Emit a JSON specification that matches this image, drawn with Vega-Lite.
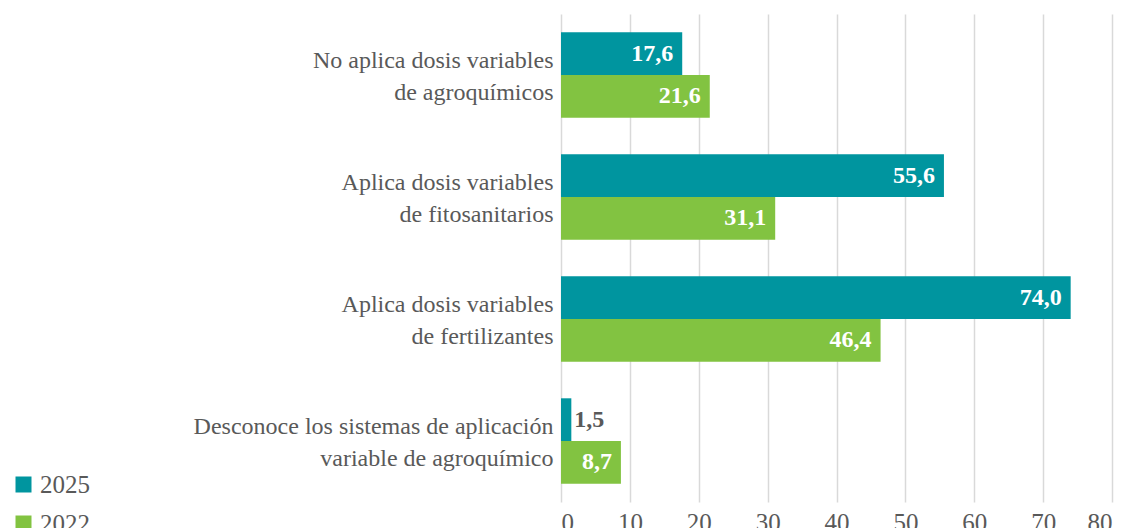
{
  "$schema": "https://vega.github.io/schema/vega-lite/v6.json",
  "width": 551,
  "height": 488,
  "autosize": {"type": "none"},
  "padding": {"left": 561, "top": 14, "right": 21, "bottom": 26},
  "background": "white",
  "config": {
    "locale": {"number": {"decimal": ",", "thousands": ".", "grouping": [3], "currency": ["", " €"]}},
    "font": "Liberation Serif",
    "view": {"stroke": null}
  },
  "data": {
    "values": [
      {"categoria": "No aplica dosis variables|de agroquímicos", "anio": "2025", "valor": 17.6},
      {"categoria": "No aplica dosis variables|de agroquímicos", "anio": "2022", "valor": 21.6},
      {"categoria": "Aplica dosis variables|de fitosanitarios", "anio": "2025", "valor": 55.6},
      {"categoria": "Aplica dosis variables|de fitosanitarios", "anio": "2022", "valor": 31.1},
      {"categoria": "Aplica dosis variables|de fertilizantes", "anio": "2025", "valor": 74.0},
      {"categoria": "Aplica dosis variables|de fertilizantes", "anio": "2022", "valor": 46.4},
      {"categoria": "Desconoce los sistemas de aplicación|variable de agroquímico", "anio": "2025", "valor": 1.5},
      {"categoria": "Desconoce los sistemas de aplicación|variable de agroquímico", "anio": "2022", "valor": 8.7}
    ]
  },
  "encoding": {
    "y": {
      "field": "categoria",
      "type": "nominal",
      "sort": null,
      "scale": {"paddingInner": 0.3, "paddingOuter": 0.15},
      "axis": {
        "title": null,
        "labelExpr": "split(datum.value, '|')",
        "labelFont": "Liberation Serif, Times New Roman, serif",
        "labelFontSize": 24,
        "labelColor": "#595959",
        "labelLineHeight": 32,
        "labelOffset": -14,
        "labelPadding": 8,
        "ticks": false,
        "domain": false,
        "labelLimit": 600
      }
    },
    "yOffset": {"field": "anio", "type": "nominal", "sort": ["2025", "2022"], "scale": {"paddingInner": 0, "paddingOuter": 0}},
    "x": {
      "field": "valor",
      "type": "quantitative",
      "scale": {"domain": [0, 80], "nice": false},
      "axis": {
        "title": null,
        "values": [0, 10, 20, 30, 40, 50, 60, 70, 80],
        "grid": true,
        "gridColor": "#D9D9D9",
        "gridWidth": 1.5,
        "domain": false,
        "ticks": false,
        "labelPadding": 8,
        "labelFont": "Liberation Serif, Times New Roman, serif",
        "labelFontSize": 25,
        "labelColor": "#595959"
      }
    }
  },
  "layer": [
    {
      "mark": {"type": "bar"},
      "encoding": {
        "color": {
          "field": "anio",
          "type": "nominal",
          "scale": {"domain": ["2025", "2022"], "range": ["#00959F", "#82C341"]},
          "legend": {
            "orient": "none",
            "legendX": -550,
            "legendY": 458,
            "title": null,
            "symbolType": "square",
            "symbolSize": 256,
            "symbolStrokeWidth": 0,
            "labelFont": "Liberation Serif, Times New Roman, serif",
            "labelFontSize": 25,
            "labelColor": "#595959",
            "labelOffset": 4,
            "rowPadding": 13
          }
        }
      }
    },
    {
      "transform": [{"filter": "datum.valor >= 5"}],
      "mark": {"type": "text", "align": "right", "dx": -9, "baseline": "middle", "fontWeight": "bold", "fontSize": 24, "color": "white", "font": "Liberation Serif, Times New Roman, serif"},
      "encoding": {"text": {"field": "valor", "type": "quantitative", "format": ".1f"}}
    },
    {
      "transform": [{"filter": "datum.valor < 5"}],
      "mark": {"type": "text", "align": "left", "dx": 3, "baseline": "middle", "fontWeight": "bold", "fontSize": 24, "color": "#595959", "font": "Liberation Serif, Times New Roman, serif"},
      "encoding": {"text": {"field": "valor", "type": "quantitative", "format": ".1f"}}
    }
  ]
}
